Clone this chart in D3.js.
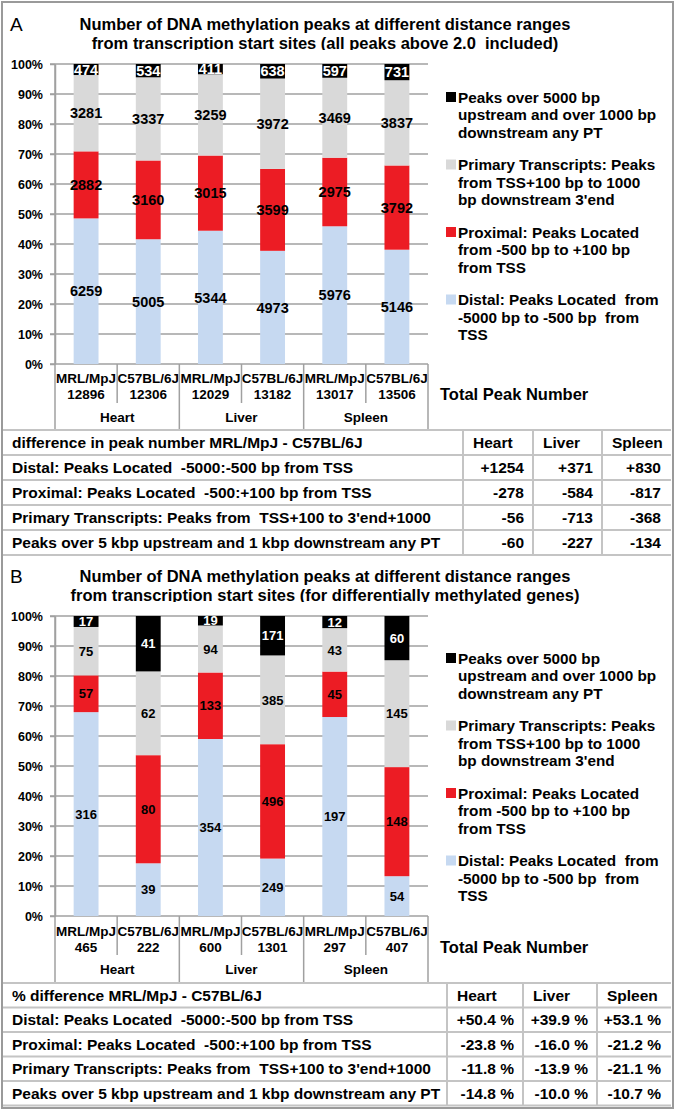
<!DOCTYPE html>
<html>
<head>
<meta charset="utf-8">
<script src="https://cdn.jsdelivr.net/npm/d3@7"></script>
<style>
  body { margin: 0; background: #fff; }
  text { font-family: "Liberation Sans", Arial, sans-serif; white-space: pre; }
</style>
</head>
<body>
<div id="fig"></div>
<script>
// categories
const strains = ['MRL/MpJ', 'C57BL/6J', 'MRL/MpJ', 'C57BL/6J', 'MRL/MpJ', 'C57BL/6J'];
const tissues = ['Heart', 'Liver', 'Spleen'];

// panel A values (all peaks)
const distalA   = [6259, 5005, 5344, 4973, 5976, 5146];
const proximalA = [2882, 3160, 3015, 3599, 2975, 3792];
const primaryA  = [3281, 3337, 3259, 3972, 3469, 3837];
const overA     = [474, 534, 411, 638, 597, 731];
const totalsA   = ['12896', '12306', '12029', '13182', '13017', '13506'];

// panel B values (differentially methylated genes)
const distalB   = [316, 39, 354, 249, 197, 54];
const proximalB = [57, 80, 133, 496, 45, 148];
const primaryB  = [75, 62, 94, 385, 43, 145];
const overB     = [17, 41, 19, 171, 12, 60];
const totalsB   = ['465', '222', '600', '1301', '297', '407'];

// legend
const legendLines = [
  ['Peaks over 5000 bp', 'upstream and over 1000 bp', 'downstream any PT'],
  ['Primary Transcripts: Peaks', 'from TSS+100 bp to 1000', "bp downstream 3'end"],
  ['Proximal: Peaks Located', 'from -500 bp to +100 bp', 'from TSS'],
  ['Distal: Peaks Located  from', '-5000 bp to -500 bp  from', 'TSS']
];

// tables
const rowLabels = [
  'Distal: Peaks Located  -5000:-500 bp from TSS',
  'Proximal: Peaks Located  -500:+100 bp from TSS',
  "Primary Transcripts: Peaks from  TSS+100 to 3'end+1000",
  'Peaks over 5 kbp upstream and 1 kbp downstream any PT'
];
const diffA = [['+1254', '+371', '+830'], ['-278', '-584', '-817'], ['-56', '-713', '-368'], ['-60', '-227', '-134']];
const diffB = [['+50.4 %', '+39.9 %', '+53.1 %'], ['-23.8 %', '-16.0 %', '-21.2 %'],
               ['-11.8 %', '-13.9 %', '-21.1 %'], ['-14.8 %', '-10.0 %', '-10.7 %']];

const keys = ['distal', 'proximal', 'primary', 'over'];
const color = d3.scaleOrdinal(keys, ['#c6d9f1', '#ec1c24', '#d9d9d9', '#000000']);
const legendKeys = ['over', 'primary', 'proximal', 'distal'];

const width = 675, height = 1110;
const plotLeft = 55, plotRight = 428;
const gridColor = '#a0a0a0';
const lineColor = '#c4c4c4';

const svg = d3.select('#fig').append('svg')
  .attr('width', width)
  .attr('height', height);

svg.append('rect')
  .attr('x', 2).attr('y', 2)
  .attr('width', width - 4).attr('height', height - 4)
  .attr('fill', 'white')
  .attr('stroke', '#9a9a9a')
  .attr('stroke-width', 2);

function drawPanel(p) {
  const g = svg.append('g');

  const rows = strains.map((s, i) => ({
    distal: p.distal[i], proximal: p.proximal[i], primary: p.primary[i], over: p.over[i]
  }));
  const series = d3.stack().keys(keys).offset(d3.stackOffsetExpand)(rows);

  const x = d3.scaleBand().domain(d3.range(strains.length))
    .range([plotLeft, plotRight]).paddingInner(0.6).paddingOuter(0.3);
  const y = d3.scaleLinear().domain([0, 1]).range([p.yBot, p.yTop]);

  // panel letter + title
  g.append('text').attr('x', 10).attr('y', p.titleY[0]).attr('dy', '0.35em')
    .attr('font-size', 19).text(p.letter);
  g.selectAll('.title').data(p.title).enter().append('text')
    .attr('x', 325).attr('y', (d, i) => p.titleY[i]).attr('dy', '0.35em')
    .attr('text-anchor', 'middle').attr('font-size', 16.5).attr('font-weight', 'bold')
    .text(d => d);

  // gridlines
  g.selectAll('.grid').data(y.ticks(10)).enter().append('line')
    .attr('x1', plotLeft - 5).attr('x2', plotRight)
    .attr('y1', d => y(d)).attr('y2', d => y(d))
    .attr('stroke', gridColor).attr('stroke-width', 1.5);

  // y axis
  const yAxis = g.append('g')
    .attr('transform', `translate(${plotLeft},0)`)
    .call(d3.axisLeft(y).ticks(10, '.0%').tickSize(5).tickSizeOuter(0).tickPadding(7));
  yAxis.selectAll('path, line').attr('stroke', gridColor).attr('stroke-width', 1.5);
  yAxis.selectAll('text').attr('font-size', 12.5).attr('font-weight', 'bold')
    .attr('fill', '#000').attr('font-family', '"Liberation Sans", Arial, sans-serif');

  // bars
  const layer = g.selectAll('.layer').data(series).enter().append('g')
    .attr('fill', d => color(d.key));
  layer.selectAll('rect').data(d => d).enter().append('rect')
    .attr('x', (d, i) => x(i))
    .attr('width', x.bandwidth())
    .attr('y', d => y(d[1]))
    .attr('height', d => y(d[0]) - y(d[1]));

  // value labels (white on black segment, text may spill above the bar)
  series.forEach(s => {
    g.selectAll('.lbl-' + s.key).data(s).enter().append('text')
      .attr('x', (d, i) => x(i) + x.bandwidth() / 2)
      .attr('y', d => y((d[0] + d[1]) / 2))
      .attr('dy', '0.36em')
      .attr('text-anchor', 'middle')
      .attr('font-size', p.labelSize).attr('font-weight', 'bold')
      .attr('fill', s.key === 'over' ? '#fff' : '#000')
      .text((d, i) => p[s.key][i]);
  });
  // cover the overflow of white labels above 100%
  g.append('rect').attr('x', plotLeft + 1).attr('y', p.yTop - 14)
    .attr('width', plotRight - plotLeft).attr('height', 13).attr('fill', 'white');

  // x axis category labels
  g.selectAll('.strain').data(strains).enter().append('text')
    .attr('x', (d, i) => x(i) + x.bandwidth() / 2).attr('y', p.strainY).attr('dy', '0.35em')
    .attr('text-anchor', 'middle').attr('font-size', 13.5).attr('font-weight', 'bold')
    .text(d => d);
  g.selectAll('.total').data(p.totals).enter().append('text')
    .attr('x', (d, i) => x(i) + x.bandwidth() / 2).attr('y', p.totalY).attr('dy', '0.35em')
    .attr('text-anchor', 'middle').attr('font-size', 13.5).attr('font-weight', 'bold')
    .text(d => d);

  const step = x.step();
  // separators within groups
  g.selectAll('.catsep').data([1, 3, 5]).enter().append('line')
    .attr('x1', d => plotLeft + d * step).attr('x2', d => plotLeft + d * step)
    .attr('y1', p.yBot).attr('y2', p.catSepBot)
    .attr('stroke', gridColor).attr('stroke-width', 1.5);
  // separators between groups
  g.selectAll('.grpsep').data([0, 2, 4, 6]).enter().append('line')
    .attr('x1', d => plotLeft + d * step).attr('x2', d => plotLeft + d * step)
    .attr('y1', d => d === 0 ? p.yTop : p.yBot).attr('y2', p.grpSepBot)
    .attr('stroke', gridColor).attr('stroke-width', 1.5);
  g.selectAll('.tissue').data(tissues).enter().append('text')
    .attr('x', (d, i) => plotLeft + (2 * i + 1) * step).attr('y', p.tissueY).attr('dy', '0.35em')
    .attr('text-anchor', 'middle').attr('font-size', 13.5).attr('font-weight', 'bold')
    .text(d => d);

  // legend
  legendKeys.forEach((k, i) => {
    const y0 = p.legendY + i * 67.5;
    g.append('rect').attr('x', 446).attr('y', y0 - 5).attr('width', 10).attr('height', 10)
      .attr('fill', color(k));
    g.selectAll('.leg' + i).data(legendLines[i]).enter().append('text')
      .attr('x', 458).attr('y', (d, j) => y0 + j * 17.5).attr('dy', '0.36em')
      .attr('font-size', 15.3).attr('font-weight', 'bold')
      .text(d => d);
  });
  g.append('text').attr('x', 440).attr('y', p.totalY).attr('dy', '0.36em')
    .attr('font-size', 16.5).attr('font-weight', 'bold').text('Total Peak Number');
}

function drawTable(t) {
  const g = svg.append('g');
  const nRows = t.values.length + 1;
  const yRow = d3.scaleLinear().domain([0, nRows]).range([t.top, t.top + nRows * t.rowH]);

  g.selectAll('.hline').data(d3.range(nRows + 1)).enter().append('line')
    .attr('x1', 3).attr('x2', 671)
    .attr('y1', d => yRow(d)).attr('y2', d => yRow(d))
    .attr('stroke', lineColor).attr('stroke-width', 2);
  g.selectAll('.vline').data(t.cols.slice(0, 3)).enter().append('line')
    .attr('x1', d => d).attr('x2', d => d)
    .attr('y1', yRow(0)).attr('y2', yRow(nRows))
    .attr('stroke', lineColor).attr('stroke-width', 2);

  const fs = 15.5;
  g.append('text').attr('x', 12).attr('y', yRow(0.5)).attr('dy', '0.36em')
    .attr('font-size', fs).attr('font-weight', 'bold').text(t.header);
  g.selectAll('.colh').data(tissues).enter().append('text')
    .attr('x', (d, i) => t.cols[i] + 10).attr('y', yRow(0.5)).attr('dy', '0.36em')
    .attr('font-size', fs).attr('font-weight', 'bold').text(d => d);
  g.selectAll('.rowl').data(rowLabels).enter().append('text')
    .attr('x', 12).attr('y', (d, i) => yRow(i + 1.5)).attr('dy', '0.36em')
    .attr('font-size', fs).attr('font-weight', 'bold').text(d => d);
  t.values.forEach((row, r) => {
    g.selectAll('.val' + r).data(row).enter().append('text')
      .attr('x', (d, i) => t.cols[i + 1] - 9).attr('y', yRow(r + 1.5)).attr('dy', '0.36em')
      .attr('text-anchor', 'end').attr('font-size', fs).attr('font-weight', 'bold').text(d => d);
  });
}

drawPanel({
  letter: 'A',
  title: ['Number of DNA methylation peaks at different distance ranges',
          'from transcription start sites (all peaks above 2.0  included)'],
  titleY: [24, 43],
  yTop: 64, yBot: 364,
  distal: distalA, proximal: proximalA, primary: primaryA, over: overA, totals: totalsA,
  labelSize: 14.5,
  strainY: 378, totalY: 394, tissueY: 417, catSepBot: 403, grpSepBot: 430,
  legendY: 97
});
drawTable({ top: 430, rowH: 25, cols: [463, 533, 602, 670],
  header: 'difference in peak number MRL/MpJ - C57BL/6J', values: diffA });

drawPanel({
  letter: 'B',
  title: ['Number of DNA methylation peaks at different distance ranges',
          'from transcription start sites (for differentially methylated genes)'],
  titleY: [576, 595],
  yTop: 616, yBot: 916,
  distal: distalB, proximal: proximalB, primary: primaryB, over: overB, totals: totalsB,
  labelSize: 13,
  strainY: 931, totalY: 947, tissueY: 969, catSepBot: 955, grpSepBot: 983,
  legendY: 658
});
drawTable({ top: 983, rowH: 24.5, cols: [447, 523, 597, 670],
  header: '% difference MRL/MpJ - C57BL/6J', values: diffB });
</script>
</body>
</html>
